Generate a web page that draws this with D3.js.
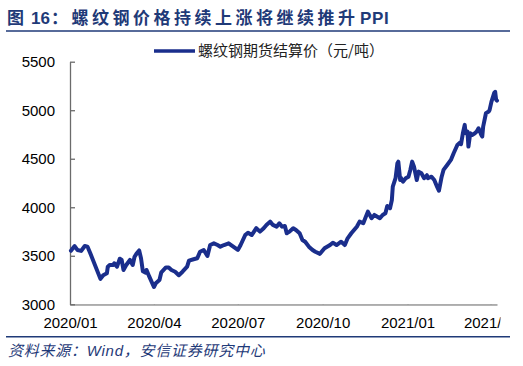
<!DOCTYPE html>
<html><head><meta charset="utf-8">
<script src="https://cdn.jsdelivr.net/npm/d3@7/dist/d3.min.js"></script>
<style>
html,body{margin:0;padding:0;background:#fff;}
svg{display:block;}
</style></head>
<body>
<svg id="chart" width="523" height="366"></svg>
<script>
const titleText = ["图", "16", "：螺纹钢价格持续上涨将继续推升", "PPI"];
const legendLabel = "螺纹钢期货结算价（元/吨）";
const sourceText = "资料来源：Wind，安信证券研究中心";
const yTicks = [3000, 3500, 4000, 4500, 5000, 5500];
const xTicks = ["2020-01-01","2020-04-01","2020-07-01","2020-10-01","2021-01-01","2021-04-01"];
const dates = ["2020-01-02","2020-01-06","2020-01-09","2020-01-13","2020-01-17","2020-01-20","2020-01-23","2020-02-03","2020-02-06","2020-02-10","2020-02-11","2020-02-13","2020-02-17","2020-02-18","2020-02-21","2020-02-24","2020-02-26","2020-02-28","2020-03-02","2020-03-06","2020-03-09","2020-03-11","2020-03-13","2020-03-16","2020-03-18","2020-03-20","2020-03-23","2020-03-24","2020-03-27","2020-04-01","2020-04-03","2020-04-07","2020-04-09","2020-04-14","2020-04-17","2020-04-20","2020-04-24","2020-04-28","2020-05-02","2020-05-07","2020-05-09","2020-05-14","2020-05-18","2020-05-21","2020-05-25","2020-05-29","2020-06-01","2020-06-05","2020-06-09","2020-06-12","2020-06-16","2020-06-21","2020-06-26","2020-07-01","2020-07-04","2020-07-09","2020-07-12","2020-07-16","2020-07-21","2020-07-25","2020-07-29","2020-08-01","2020-08-05","2020-08-08","2020-08-12","2020-08-15","2020-08-18","2020-08-21","2020-08-23","2020-08-26","2020-08-30","2020-09-02","2020-09-06","2020-09-09","2020-09-12","2020-09-16","2020-09-20","2020-09-23","2020-09-28","2020-10-03","2020-10-09","2020-10-12","2020-10-16","2020-10-21","2020-10-25","2020-10-28","2020-11-01","2020-11-07","2020-11-10","2020-11-14","2020-11-19","2020-11-23","2020-11-26","2020-12-02","2020-12-05","2020-12-08","2020-12-10","2020-12-13","2020-12-15","2020-12-16","2020-12-19","2020-12-21","2020-12-22","2020-12-24","2020-12-25","2020-12-27","2020-12-30","2021-01-02","2021-01-04","2021-01-06","2021-01-08","2021-01-11","2021-01-13","2021-01-16","2021-01-19","2021-01-22","2021-01-23","2021-01-27","2021-01-30","2021-02-02","2021-02-04","2021-02-07","2021-02-09","2021-02-13","2021-02-17","2021-02-20","2021-02-24","2021-02-27","2021-02-28","2021-03-02","2021-03-04","2021-03-05","2021-03-07","2021-03-08","2021-03-10","2021-03-12","2021-03-15","2021-03-17","2021-03-19","2021-03-22","2021-03-23","2021-03-24","2021-03-27","2021-03-30","2021-03-31","2021-04-02","2021-04-05","2021-04-06","2021-04-07","2021-04-08"];
const prices = [3553,3600,3560,3550,3600,3594,3526,3262,3300,3320,3388,3405,3405,3422,3388,3470,3457,3354,3405,3457,3405,3490,3520,3555,3474,3340,3326,3354,3285,3178,3216,3250,3330,3380,3380,3354,3336,3300,3336,3388,3450,3464,3474,3542,3560,3498,3611,3628,3611,3594,3611,3628,3594,3560,3611,3714,3738,3714,3784,3749,3784,3818,3852,3818,3800,3835,3800,3807,3732,3749,3784,3766,3732,3663,3645,3594,3560,3542,3520,3577,3611,3635,3611,3645,3611,3680,3732,3800,3852,3835,3955,3887,3921,3887,3921,3938,4013,3990,4075,4212,4299,4454,4470,4281,4300,4264,4299,4315,4385,4470,4419,4281,4367,4350,4299,4330,4299,4315,4281,4212,4170,4315,4385,4436,4488,4557,4642,4666,4650,4763,4849,4763,4780,4625,4763,4745,4763,4780,4814,4745,4728,4831,4969,4986,5003,5088,5180,5190,5110,5100];

const parse = d3.timeParse("%Y-%m-%d");
const data = dates.map((d, i) => ({date: parse(d), value: prices[i]}));

const navy = "#1f3a78";
const lineColor = "#1a2e8c";
const axisColor = "#6b6b6b";

const svg = d3.select("#chart");
svg.append("rect").attr("width", 523).attr("height", 366).attr("fill", "#fff");

// Title
const title = svg.append("text").attr("y", 24)
  .attr("fill", navy).attr("font-weight", "bold").attr("font-size", 17)
  .attr("font-family", "'Liberation Sans', Arial, 'Noto Sans CJK SC', sans-serif");
title.append("tspan").attr("x", 7).attr("font-family", "'Noto Sans CJK SC', sans-serif").text(titleText[0]);
title.append("tspan").attr("x", 31).text(titleText[1]);
title.append("tspan").attr("x", 51).attr("font-family", "'Noto Sans CJK SC', sans-serif").attr("letter-spacing", 3.5).text(titleText[2]);
title.append("tspan").attr("x", 360).attr("letter-spacing", 0.6).text(titleText[3]);
svg.append("line").attr("x1", 6).attr("x2", 510).attr("y1", 31).attr("y2", 31)
  .attr("stroke", navy).attr("stroke-width", 1.5);

// Scales
const x = d3.scaleTime().domain([parse("2020-01-01"), parse("2021-04-08")]).range([70, 497]);
const y = d3.scaleLinear().domain([3000, 5500]).range([304.3, 61.7]);

// Axes
const gx = svg.append("g").attr("transform", "translate(0,304.3)")
  .call(d3.axisBottom(x).tickValues(xTicks.map(parse)).tickFormat(d3.timeFormat("%Y/%m"))
    .tickSizeInner(-5).tickSizeOuter(0).tickPadding(13));
const gy = svg.append("g").attr("transform", "translate(70,0)")
  .call(d3.axisLeft(y).tickValues(yTicks).tickFormat(d3.format("d"))
    .tickSizeInner(-5).tickSizeOuter(0).tickPadding(15));
[gx, gy].forEach(g => {
  g.select(".domain").attr("stroke", axisColor).attr("stroke-width", 1.3);
  g.selectAll(".tick line").attr("stroke", axisColor).attr("stroke-width", 1.3);
  g.selectAll(".tick text").attr("fill", "#000").attr("font-size", 15)
    .attr("font-family", "'Liberation Sans', Arial, sans-serif");
});
svg.append("clipPath").attr("id", "xclip").append("rect")
  .attr("x", 0).attr("y", 0).attr("width", 500.5).attr("height", 366);
gx.attr("clip-path", "url(#xclip)");

// Line
svg.append("path").datum(data)
  .attr("fill", "none").attr("stroke", lineColor).attr("stroke-width", 4)
  .attr("stroke-linejoin", "round").attr("stroke-linecap", "round")
  .attr("d", d3.line().x(d => x(d.date)).y(d => y(d.value)));

// Legend
svg.append("line").attr("x1", 154).attr("x2", 195).attr("y1", 51).attr("y2", 51)
  .attr("stroke", lineColor).attr("stroke-width", 3.5);
svg.append("text").attr("x", 198).attr("y", 56).attr("font-size", 15)
  .attr("font-family", "'Noto Sans CJK SC', sans-serif").attr("fill", "#222")
  .text(legendLabel);

// Footer
svg.append("line").attr("x1", 6).attr("x2", 510).attr("y1", 336.7).attr("y2", 336.7)
  .attr("stroke", navy).attr("stroke-width", 1.5);
svg.append("text").attr("x", 8).attr("y", 356).attr("font-size", 15).attr("font-style", "italic")
  .attr("letter-spacing", 0.75)
  .attr("font-family", "'Liberation Sans', Arial, 'Noto Sans CJK SC', sans-serif")
  .attr("fill", navy).text(sourceText);
</script>
</body></html>
